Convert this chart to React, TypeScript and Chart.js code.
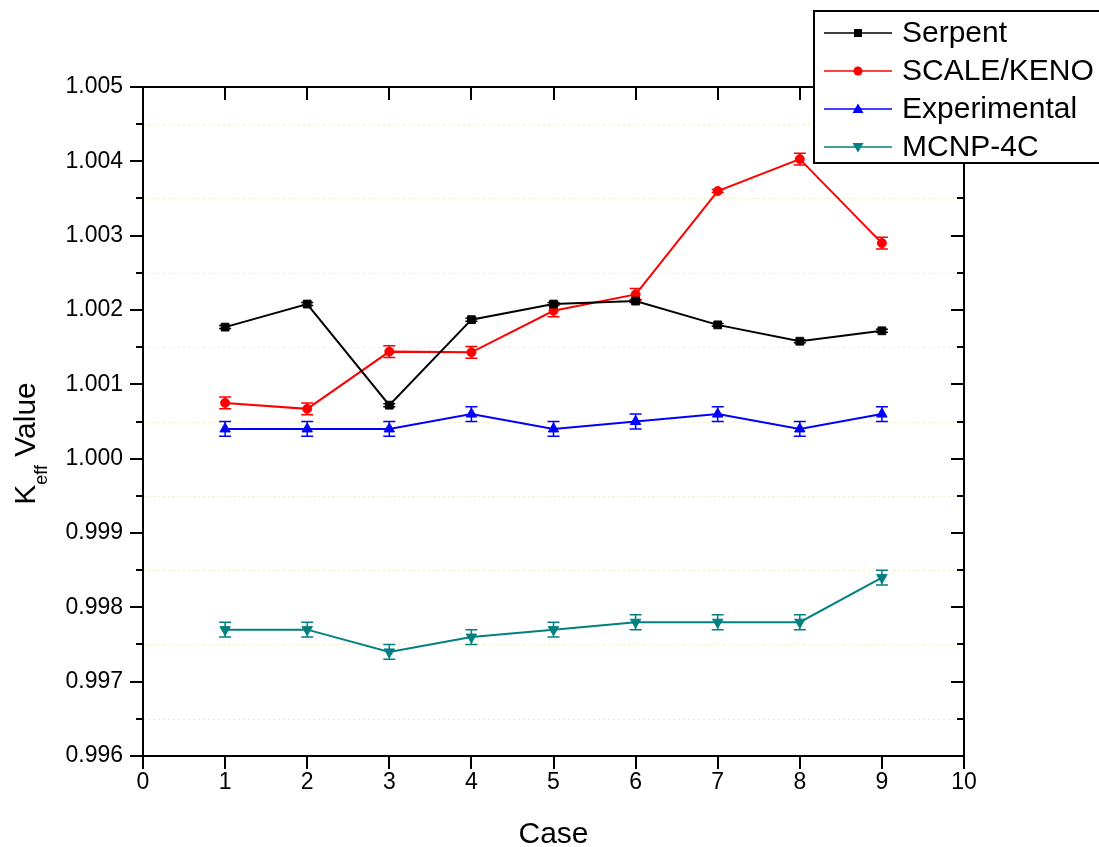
import React, { useEffect, useRef } from "react";
import { Chart, registerables } from "chart.js";

Chart.register(...registerables);

const FONT = "'Liberation Sans', Arial, Helvetica, sans-serif";

const cases = [1, 2, 3, 4, 5, 6, 7, 8, 9];

const serpent = [1.00177, 1.00208, 1.00072, 1.00187, 1.00208, 1.00212, 1.0018, 1.00158, 1.00172];
const serpentErr = [0.00002, 0.00002, 0.00002, 0.00002, 0.00002, 0.00002, 0.00002, 0.00002, 0.00002];

const scaleKeno = [1.00075, 1.00067, 1.00144, 1.00143, 1.00199, 1.00221, 1.0036, 1.00403, 1.0029];
const scaleErr = [0.00008, 0.00008, 0.00008, 0.00008, 0.00008, 0.00008, 0.00002, 0.00008, 0.00008];

const experimental = [1.0004, 1.0004, 1.0004, 1.0006, 1.0004, 1.0005, 1.0006, 1.0004, 1.0006];
const experimentalErr = [0.0001, 0.0001, 0.0001, 0.0001, 0.0001, 0.0001, 0.0001, 0.0001, 0.0001];

const mcnp = [0.9977, 0.9977, 0.9974, 0.9976, 0.9977, 0.9978, 0.9978, 0.9978, 0.9984];
const mcnpErr = [0.0001, 0.0001, 0.0001, 0.0001, 0.0001, 0.0001, 0.0001, 0.0001, 0.0001];

const xTicks = [0, 1, 2, 3, 4, 5, 6, 7, 8, 9, 10];
const yTicks = [0.996, 0.997, 0.998, 0.999, 1.0, 1.001, 1.002, 1.003, 1.004, 1.005];
const yMinorTicks = [0.9965, 0.9975, 0.9985, 0.9995, 1.0005, 1.0015, 1.0025, 1.0035, 1.0045];

const seriesLabels = ["Serpent", "SCALE/KENO", "Experimental", "MCNP-4C"];
const seriesColors = ["#000000", "#ff0000", "#0000ff", "#008080"];
const seriesErrors = [serpentErr, scaleErr, experimentalErr, mcnpErr];

function drawMarker(ctx: CanvasRenderingContext2D, style: string, x: number, y: number, color: string) {
  ctx.save();
  ctx.fillStyle = color;
  ctx.strokeStyle = color;
  ctx.beginPath();
  if (style === "rect") {
    ctx.rect(x - 4, y - 4, 8, 8);
  } else if (style === "circle") {
    ctx.arc(x, y, 4.5, 0, Math.PI * 2);
  } else if (style === "up") {
    ctx.moveTo(x, y - 5.5);
    ctx.lineTo(x + 5.5, y + 4);
    ctx.lineTo(x - 5.5, y + 4);
    ctx.closePath();
  } else {
    ctx.moveTo(x, y + 5.5);
    ctx.lineTo(x + 5.5, y - 4);
    ctx.lineTo(x - 5.5, y - 4);
    ctx.closePath();
  }
  ctx.fill();
  ctx.restore();
}

const legendStyles = ["rect", "circle", "up", "down"];

const decorPlugin = {
  id: "decor",
  beforeDatasetsDraw(chart: any) {
    const { ctx, chartArea: a, scales } = chart;
    const x = scales.x;
    const y = scales.y;
    ctx.save();
    ctx.strokeStyle = "rgba(225,225,150,0.6)";
    ctx.lineWidth = 1;
    ctx.setLineDash([2, 3]);
    for (const v of yMinorTicks) {
      const py = Math.round(y.getPixelForValue(v)) + 0.5;
      ctx.beginPath();
      ctx.moveTo(a.left, py);
      ctx.lineTo(a.right, py);
      ctx.stroke();
    }
    ctx.restore();
    ctx.save();
    chart.data.datasets.forEach((ds: any, i: number) => {
      const errs = seriesErrors[i];
      ctx.strokeStyle = ds.borderColor;
      ctx.lineWidth = 1.5;
      ds.data.forEach((pt: any, j: number) => {
        const px = x.getPixelForValue(pt.x);
        const top = y.getPixelForValue(pt.y + errs[j]);
        const bot = y.getPixelForValue(pt.y - errs[j]);
        ctx.beginPath();
        ctx.moveTo(px, top);
        ctx.lineTo(px, bot);
        ctx.moveTo(px - 6, top);
        ctx.lineTo(px + 6, top);
        ctx.moveTo(px - 6, bot);
        ctx.lineTo(px + 6, bot);
        ctx.stroke();
      });
    });
    ctx.restore();
  },
  afterDraw(chart: any) {
    const { ctx, chartArea: a, scales } = chart;
    const x = scales.x;
    const y = scales.y;
    ctx.save();
    ctx.strokeStyle = "#000";
    ctx.lineWidth = 2;
    ctx.strokeRect(a.left, a.top, a.right - a.left, a.bottom - a.top);
    ctx.beginPath();
    for (const v of xTicks) {
      const px = Math.round(x.getPixelForValue(v));
      ctx.moveTo(px, a.bottom);
      ctx.lineTo(px, a.bottom + 13);
      ctx.moveTo(px, a.top);
      ctx.lineTo(px, a.top + 13);
    }
    for (const v of yTicks) {
      const py = Math.round(y.getPixelForValue(v));
      ctx.moveTo(a.left - 13, py);
      ctx.lineTo(a.left, py);
      ctx.moveTo(a.right - 13, py);
      ctx.lineTo(a.right, py);
    }
    for (const v of yMinorTicks) {
      const py = Math.round(y.getPixelForValue(v));
      ctx.moveTo(a.left - 7, py);
      ctx.lineTo(a.left, py);
      ctx.moveTo(a.right - 7, py);
      ctx.lineTo(a.right, py);
    }
    ctx.stroke();

    ctx.fillStyle = "#000";
    ctx.font = `30px ${FONT}`;
    ctx.textAlign = "center";
    ctx.textBaseline = "alphabetic";
    ctx.fillText("Case", (a.left + a.right) / 2, 843);

    ctx.save();
    const cy = (a.top + a.bottom) / 2 + 22;
    ctx.translate(35, cy);
    ctx.rotate(-Math.PI / 2);
    ctx.textAlign = "left";
    ctx.font = `30px ${FONT}`;
    const wK = ctx.measureText("K").width;
    const wV = ctx.measureText(" Value").width;
    ctx.font = `18px ${FONT}`;
    const wS = ctx.measureText("eff").width;
    const total = wK + wS + wV;
    let sx = -total / 2;
    ctx.font = `30px ${FONT}`;
    ctx.fillText("K", sx, 0);
    sx += wK;
    ctx.font = `18px ${FONT}`;
    ctx.fillText("eff", sx, 12);
    sx += wS;
    ctx.font = `30px ${FONT}`;
    ctx.fillText(" Value", sx, 0);
    ctx.restore();

    const lx = 814;
    const ly = 11;
    ctx.fillStyle = "#fff";
    ctx.fillRect(lx, ly, 300, 152);
    ctx.strokeStyle = "#000";
    ctx.lineWidth = 2;
    ctx.strokeRect(lx, ly, 300, 152);
    ctx.font = `30px ${FONT}`;
    ctx.textAlign = "left";
    ctx.textBaseline = "middle";
    chart.data.datasets.forEach((ds: any, i: number) => {
      const ry = 33 + i * 38;
      ctx.strokeStyle = ds.borderColor;
      ctx.lineWidth = 1.5;
      ctx.beginPath();
      ctx.moveTo(824, ry);
      ctx.lineTo(892, ry);
      ctx.stroke();
      drawMarker(ctx, legendStyles[i], 858, ry, ds.borderColor);
      ctx.fillStyle = "#000";
      ctx.fillText(ds.label, 902, ry + 1);
    });
    ctx.restore();
  },
};

export default function App() {
  const ref = useRef<HTMLCanvasElement | null>(null);
  useEffect(() => {
    document.body.style.margin = "0";
    if (!ref.current) return;
    const mk = (vals: number[]) => cases.map((c, i) => ({ x: c, y: vals[i] }));
    const all = [serpent, scaleKeno, experimental, mcnp];
    const pointStyles: any[] = ["rect", "circle", "triangle", "triangle"];
    const rotations = [0, 0, 0, 180];
    const radii = [5.5, 4.5, 6, 6];
    const chart = new Chart(ref.current, {
      type: "line",
      data: {
        datasets: all.map((vals, i) => ({
          label: seriesLabels[i],
          data: mk(vals),
          borderColor: seriesColors[i],
          backgroundColor: seriesColors[i],
          borderWidth: 2,
          pointStyle: pointStyles[i],
          pointRotation: rotations[i],
          pointRadius: radii[i],
          pointBorderWidth: 1,
          tension: 0,
          fill: false,
        })),
      },
      options: {
        animation: false,
        responsive: false,
        devicePixelRatio: 1,
        layout: { padding: { top: 87, right: 135, left: 0, bottom: 0 } },
        plugins: { legend: { display: false }, tooltip: { enabled: false } },
        scales: {
          x: {
            type: "linear",
            min: 0,
            max: 10,
            afterFit: (s: any) => {
              s.height = 91;
            },
            afterBuildTicks: (s: any) => {
              s.ticks = xTicks.map((v) => ({ value: v }));
            },
            grid: { display: false, drawTicks: false },
            border: { display: false },
            ticks: {
              color: "#000",
              padding: 13,
              font: { family: FONT, size: 23 },
              callback: (v: any) => String(v),
            },
          },
          y: {
            type: "linear",
            min: 0.996,
            max: 1.005,
            afterFit: (s: any) => {
              s.width = 143;
            },
            afterBuildTicks: (s: any) => {
              s.ticks = yTicks.map((v) => ({ value: v }));
            },
            grid: { display: false, drawTicks: false },
            border: { display: false },
            ticks: {
              color: "#000",
              padding: 20,
              font: { family: FONT, size: 23 },
              callback: (v: any) => Number(v).toFixed(3),
            },
          },
        },
      },
      plugins: [decorPlugin],
    });
    return () => chart.destroy();
  }, []);
  return (
    <div style={{ position: "fixed", left: 0, top: 0, width: 1099, height: 847, background: "#fff" }}>
      <canvas ref={ref} width={1099} height={847} style={{ display: "block" }} />
    </div>
  );
}
